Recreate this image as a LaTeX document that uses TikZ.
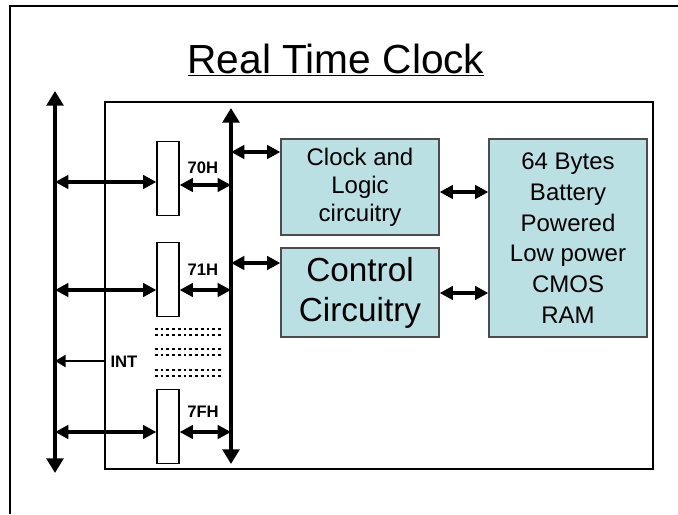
\documentclass[tikz,border=0pt]{standalone}
\usepackage{fontspec}
\setmainfont{Liberation Sans}
\usetikzlibrary{positioning, arrows.meta}
\usepackage{xcolor}
\definecolor{boxfill}{HTML}{BBE0E3}

\begin{document}
\begin{tikzpicture}[
    x=0.75pt, y=-0.75pt,
    bus/.style={line width=3pt, -{Triangle[width=12.5pt, length=11pt]}},
    link/.style={line width=3pt, {Triangle[width=10pt, length=10pt]}-{Triangle[width=10pt, length=10pt]}},
    port/.style={rectangle, draw=black, line width=0.9pt, fill=white, minimum width=16.5pt, minimum height=55pt, inner sep=0pt},
    block/.style={rectangle, draw=black!70, line width=0.9pt, fill=boxfill, minimum width=118.5pt, align=center, inner sep=0pt},
    addr/.style={font=\fontsize{12.5}{14}\selectfont\bfseries, inner sep=1pt}
]
    \useasboundingbox (0,0) rectangle (678,514);
    % slide frame and chip outline
    \draw[line width=2.2pt] (10,514) -- (10,6) -- (678,6);
    \draw[line width=2pt] (105,102) rectangle (653,469);

    \node[anchor=base] (title) at (336,73) {\fontsize{30.5}{34}\selectfont\underline{Real Time Clock}};

    % buses
    \coordinate (sysbot) at (55,473);
    \coordinate (systop) at (55,91);
    \coordinate (inbot) at (231,464);
    \coordinate (intop) at (231,108);
    \draw[bus] (55,282) -- (systop);
    \draw[bus] (55,282) -- (sysbot);
    \draw[bus] (231,286) -- (intop);
    \draw[bus] (231,286) -- (inbot);

    % port registers
    \node[port] (reg70) at (168,178.5) {};
    \node[port] (reg71) at (168,279.5) {};
    \node[port] (reg7F) at (168,426.5) {};

    \coordinate (s70) at (55,182);
    \coordinate (s71) at (55,290);
    \coordinate (s7F) at (55,432);
    \coordinate (i70) at (231,185);
    \coordinate (i71) at (231,290);
    \coordinate (i7F) at (231,432);
    \coordinate (sint) at (55,361);
    \coordinate (bint) at (105,361);

    \draw[link] (s70) -- (s70 -| reg70.west);
    \draw[link] (s71) -- (s71 -| reg71.west);
    \draw[link] (s7F) -- (s7F -| reg7F.west);
    \draw[link] (i70 -| reg70.east) -- (i70);
    \draw[link] (i71 -| reg71.east) -- (i71);
    \draw[link] (i7F -| reg7F.east) -- (i7F);
    \draw[line width=1.8pt, -{Triangle[width=9pt, length=8pt]}] (bint) -- (sint);

    \node[addr] (l70) at (203,168) {70H};
    \node[addr] (l71) at (203,270) {71H};
    \node[addr] (l7F) at (203,412) {7FH};
    \node[addr] (lint) at (124,362) {INT};

    % more ports
    \foreach \yy in {329,335,349,355,370,376}
        \draw[line width=2pt, dash pattern=on 2pt off 2.3pt] (155,\yy) -- (221,\yy);

    % blocks
    \node[block, minimum height=72pt, font=\fontsize{18}{21}\selectfont] (clk) at (360,187) {Clock and\\Logic\\circuitry};
    \node[block, minimum height=66.75pt, font=\fontsize{25}{30}\selectfont] (ctrl) at (360,292.5) {Control\\Circuitry};
    \node[block, minimum height=148.5pt, font=\fontsize{18}{23}\selectfont] (ram) at (568,238) {64 Bytes\\Battery\\Powered\\Low power\\CMOS\\RAM};

    \coordinate (iclk) at (231,152);
    \coordinate (ictrl) at (231,263);
    \draw[link] (iclk) -- (iclk -| clk.west);
    \draw[link] (ictrl) -- (ictrl -| ctrl.west);
    \draw[link] (clk.east |- 0,192) -- (ram.west |- 0,192);
    \draw[link] (ctrl.east |- 0,293) -- (ram.west |- 0,293);
\end{tikzpicture}
\end{document}
